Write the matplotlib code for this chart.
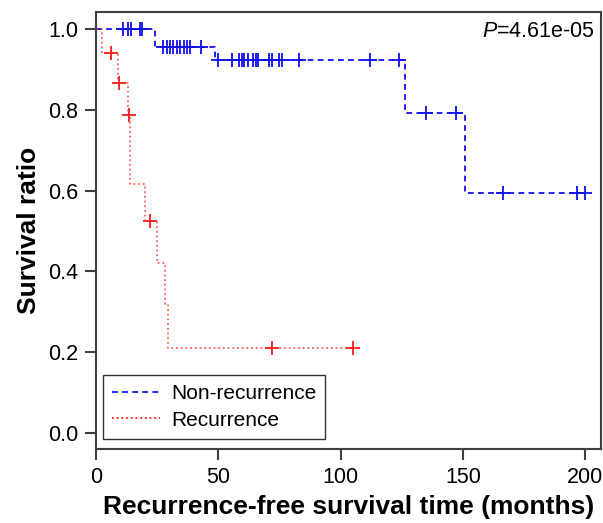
import numpy as np
import matplotlib
matplotlib.use("Agg")
import matplotlib.pyplot as plt

plt.rcParams['font.family'] = ['Liberation Sans', 'DejaVu Sans']
plt.rcParams['mathtext.fontset'] = 'custom'
plt.rcParams['mathtext.it'] = 'Liberation Sans:italic'
plt.rcParams['mathtext.rm'] = 'Liberation Sans'

# ---- data ----
nonrec_step_time = [0, 24.0, 48.5, 126.4, 150.9, 200.0]
nonrec_surv = [1.0, 0.956, 0.923, 0.793, 0.594, 0.594]
nonrec_censor = [10.9, 13.2, 14.2, 18.0, 18.9,
                 27.5, 28.9, 30.3, 31.6, 33.0, 34.4, 36.0, 37.3, 38.4, 42.8,
                 50.0, 55.5, 58.5, 59.6, 60.7, 62.3, 64.3, 65.3, 66.1, 70.8,
                 71.8, 74.8, 75.9, 83.0, 112.1, 123.9,
                 135.0, 147.2,
                 166.6, 196.6, 200.0]

rec_step_time = [0, 2.3, 8.9, 13.2, 13.9, 20.0, 25.1, 28.2, 29.6, 105.0]
rec_surv = [1.0, 0.940, 0.867, 0.787, 0.615, 0.525, 0.421, 0.320, 0.209, 0.209]
rec_censor = [6.1, 9.3, 13.4, 22.1, 72.0, 105.0]

x_ticks = [0, 50, 100, 150, 200]
y_ticks = [0.0, 0.2, 0.4, 0.6, 0.8, 1.0]
p_text = "=4.61e-05"


def surv_at(times, surv, t):
    idx = np.searchsorted(times, t, side='right') - 1
    return np.asarray(surv)[idx]


fig = plt.figure(figsize=(6.03, 5.23), dpi=100)
ax = fig.add_axes([96 / 603, 1 - 449 / 523, 505 / 603, 437 / 523])

blue = '#1010ee'
red = '#ff1a1a'

ax.step(nonrec_step_time, nonrec_surv, where='post', color=blue, lw=1.3,
        dashes=(3.2, 2.4), label='Non-recurrence')
ax.plot(nonrec_censor, surv_at(nonrec_step_time, nonrec_surv, nonrec_censor),
        ls='none', marker='+', ms=9.5, mew=1.3, color=blue)

ax.step(rec_step_time, rec_surv, where='post', color=red, lw=1.3,
        ls=(0, (1, 1.6)), alpha=0.7, label='Recurrence')
ax.plot(rec_censor, surv_at(rec_step_time, rec_surv, rec_censor),
        ls='none', marker='+', ms=9.5, mew=1.3, color=red)

ax.set_xlim(0, 206.5)
ax.set_ylim(-0.040, 1.042)
ax.set_xticks(x_ticks)
ax.set_xticklabels([str(v) for v in x_ticks])
ax.set_yticks(y_ticks)
ax.set_yticklabels([f"{v:.1f}" for v in y_ticks])

spine_col = '#404040'
for s in ax.spines.values():
    s.set_color(spine_col)
    s.set_linewidth(1.5)
ax.tick_params(axis='both', direction='out', length=8, width=1.5,
               color=spine_col, labelsize=15.5, pad=5, labelcolor='black')

ax.set_xlabel('Recurrence-free survival time (months)', fontsize=19,
              fontweight='bold', labelpad=5)
ax.set_ylabel('Survival ratio', fontsize=19, fontweight='bold', labelpad=5)

ax.text(0.988, 0.955, r'$P$' + p_text, transform=ax.transAxes,
        ha='right', va='center', fontsize=15.5)

leg = ax.legend(loc='lower left', bbox_to_anchor=(0.014, 0.023),
                fontsize=15, frameon=True, fancybox=False,
                edgecolor='black', handlelength=2.3, handletextpad=0.5,
                labelspacing=0.35, borderpad=0.45, borderaxespad=0)
leg.get_frame().set_linewidth(1.0)
for h in leg.get_lines():
    h.set_alpha(1.0)

fig.savefig('out.png', dpi=100)
